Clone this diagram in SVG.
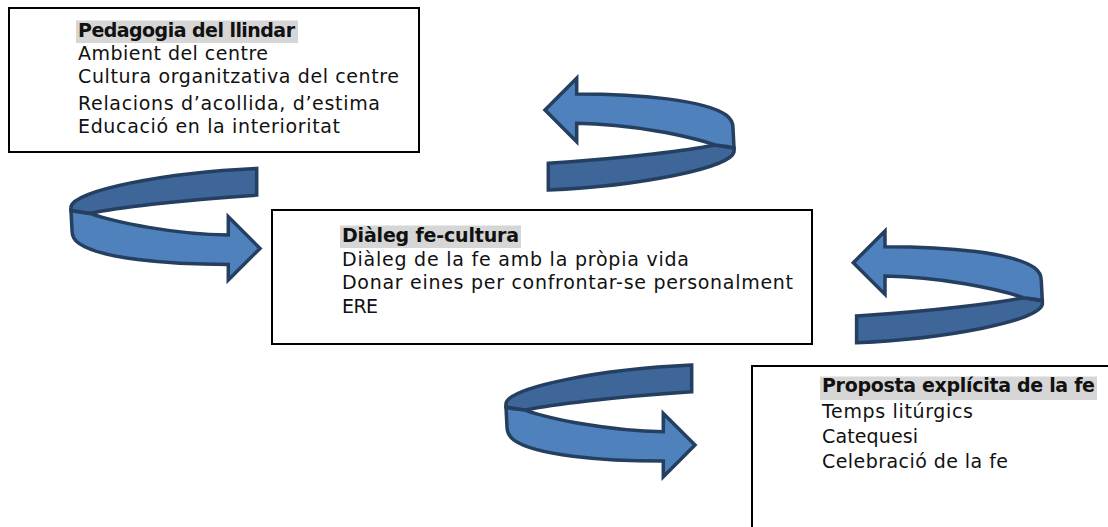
<svg xmlns="http://www.w3.org/2000/svg" width="1108" height="527" viewBox="0 0 1108 527">
<defs>
<style>
.box{fill:#fff;stroke:#000;stroke-width:2}
.t{font-family:"DejaVu Sans","Liberation Sans",sans-serif;font-size:19px;fill:#111}
.h{font-weight:bold}
.hl{fill:#d6d6d6}
.lt{fill:#4f81bd;stroke:#243f60;stroke-width:3.5;stroke-linejoin:miter}
.dk{fill:#3e6699;stroke:#243f60;stroke-width:3.5;stroke-linejoin:miter}
</style>
<g id="uturn">
<path class="dk" d="M548.3,163.3 C630,158 690,150 715,145 L734,148 L734,152 C730,168 640,186 548.3,190 Z"/>
<path class="lt" d="M545,110 L576.7,78.3 L576.7,94 C640,94 705,100 726,115 Q733,120 733,128 L734,148 C728,146 722,146 715,145 C690,136 630,124 576.7,123.3 L576.7,141.7 Z"/>
</g>
</defs>
<rect width="1108" height="527" fill="#fff"/>
<g id="connectors">
<use href="#uturn"/>
<use href="#uturn" transform="rotate(180 402.5 179.2)"/>
<use href="#uturn" transform="translate(308.3 152.7)"/>
<use href="#uturn" transform="translate(435 196.7) rotate(180 402.5 179.2)"/>
</g>
<g id="node-pedagogia">
<rect class="box" x="9" y="8" width="410" height="144"/>
<rect class="hl" x="76" y="20.5" width="222" height="22.5"/>
<text class="t h" x="78" y="37" textLength="217" lengthAdjust="spacing">Pedagogia del llindar</text>
<text class="t" x="78" y="60" textLength="190" lengthAdjust="spacing">Ambient del centre</text>
<text class="t" x="78" y="83" textLength="321" lengthAdjust="spacing">Cultura organitzativa del centre</text>
<text class="t" x="78" y="110" textLength="302" lengthAdjust="spacing">Relacions d’acollida, d’estima</text>
<text class="t" x="78" y="133" textLength="262" lengthAdjust="spacing">Educació en la interioritat</text>
</g>
<g id="node-dialeg">
<rect class="box" x="272" y="210" width="540" height="134"/>
<rect class="hl" x="340" y="225.5" width="181" height="22.5"/>
<text class="t h" x="342" y="242" textLength="177" lengthAdjust="spacing">Diàleg fe-cultura</text>
<text class="t" x="342" y="265.5" textLength="347" lengthAdjust="spacing">Diàleg de la fe amb la pròpia vida</text>
<text class="t" x="342" y="289" textLength="451" lengthAdjust="spacing">Donar eines per confrontar-se personalment</text>
<text class="t" x="342" y="312.5" textLength="36" lengthAdjust="spacing">ERE</text>
</g>
<g id="node-proposta">
<rect class="box" x="752" y="366" width="400" height="200"/>
<rect class="hl" x="820" y="376.5" width="277" height="23.5"/>
<text class="t h" x="822" y="392" textLength="273" lengthAdjust="spacing">Proposta explícita de la fe</text>
<text class="t" x="822" y="417.5" textLength="151" lengthAdjust="spacing">Temps litúrgics</text>
<text class="t" x="822" y="443" textLength="96" lengthAdjust="spacing">Catequesi</text>
<text class="t" x="822" y="468" textLength="186" lengthAdjust="spacing">Celebració de la fe</text>
</g>
</svg>
